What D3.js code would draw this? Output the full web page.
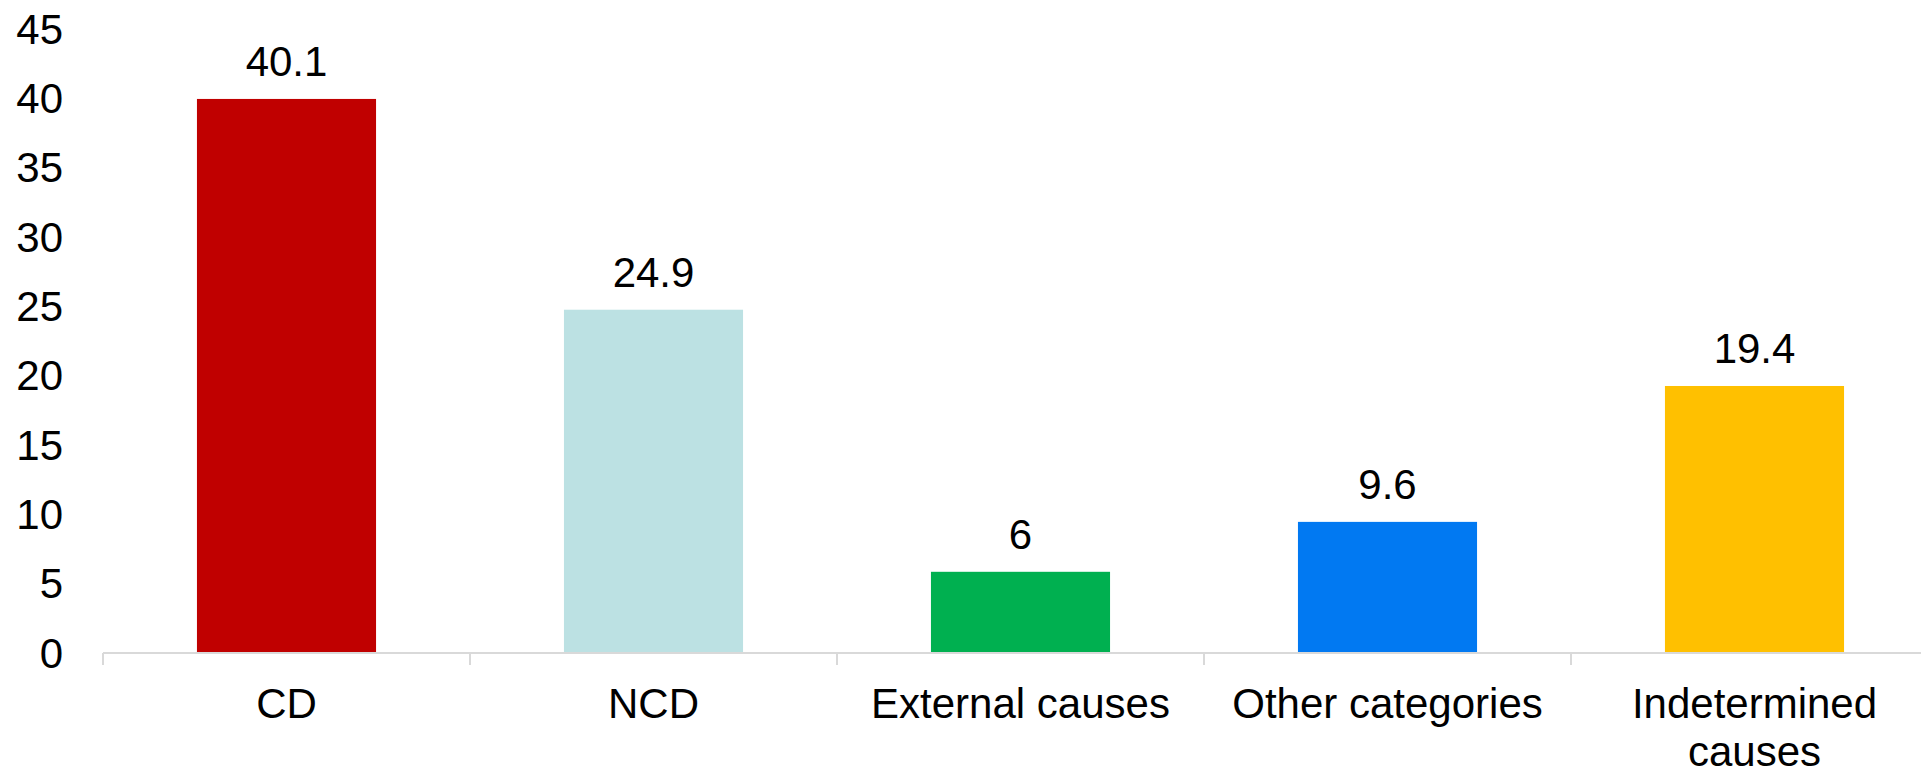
<!DOCTYPE html>
<html>
<head>
<meta charset="utf-8">
<script src="https://cdn.jsdelivr.net/npm/d3@7/dist/d3.min.js"></script>
<style>
  html, body { margin: 0; padding: 0; background: #ffffff; }
  svg { display: block; }
  text { font-family: "Liberation Sans", Arial, sans-serif; fill: #000; }
</style>
</head>
<body>
<svg id="chart" width="1921" height="771"></svg>
<script>
// Cause-of-death categories and their shares (%)
const categories = ["CD", "NCD", "External causes", "Other categories", "Indetermined causes"];
const values = [40.1, 24.9, 6, 9.6, 19.4];
const barColors = ["#C00000", "#BCE1E3", "#00B050", "#0179F2", "#FFC000"];
const yTicks = [0, 5, 10, 15, 20, 25, 30, 35, 40, 45];

const svg = d3.select("#chart");
const fontSize = 42;

// Category slots along the bottom axis
const x = d3.scaleBand()
  .domain(categories)
  .range([103, 103 + 367 * categories.length])
  .padding(0);
const barWidth = x.bandwidth() * 0.488;

// Value axis
const y = d3.scaleLinear()
  .domain([0, 45])
  .range([655, 31]);

const axisY = 653;

// Left axis: labels only
const yAxis = svg.append("g")
  .attr("transform", "translate(63,0)")
  .call(d3.axisLeft(y).tickValues(yTicks).tickSize(0).tickPadding(0).tickFormat(d3.format("d")));
yAxis.select(".domain").remove();
yAxis.selectAll("text")
  .attr("font-size", fontSize)
  .attr("font-family", "'Liberation Sans', Arial, sans-serif")
  .attr("fill", "#000")
  .attr("dy", "0.29em");

// Bars
svg.append("g").selectAll("rect")
  .data(categories)
  .join("rect")
  .attr("x", (d) => x(d) + (x.bandwidth() - barWidth) / 2)
  .attr("y", (d, i) => y(values[i]))
  .attr("width", barWidth)
  .attr("height", (d, i) => (y(0) - 3) - y(values[i]))
  .attr("fill", (d, i) => barColors[i]);

// Bottom axis line and slot separators
const axisG = svg.append("g");
axisG.append("line")
  .attr("x1", x.range()[0]).attr("x2", x.range()[1])
  .attr("y1", axisY).attr("y2", axisY)
  .attr("stroke", "#D9D9D9").attr("stroke-width", 2);
const edges = categories.map((c) => x(c)).concat([x.range()[1]]);
axisG.selectAll("line.sep")
  .data(edges)
  .join("line")
  .attr("class", "sep")
  .attr("x1", (d) => d).attr("x2", (d) => d)
  .attr("y1", axisY).attr("y2", axisY + 12)
  .attr("stroke", "#D9D9D9").attr("stroke-width", 2);

// Value labels above the bars
svg.append("g").selectAll("text")
  .data(categories)
  .join("text")
  .attr("x", (d) => x(d) + x.bandwidth() / 2)
  .attr("y", (d, i) => y(values[i]) - 23)
  .attr("text-anchor", "middle")
  .attr("font-size", fontSize)
  .text((d, i) => String(values[i]));

// Category labels, wrapped to fit their slot
const catLabels = svg.append("g").selectAll("text")
  .data(categories)
  .join("text")
  .attr("x", (d) => x(d) + x.bandwidth() / 2)
  .attr("y", 718)
  .attr("text-anchor", "middle")
  .attr("font-size", fontSize);

catLabels.each(function (d) {
  const el = d3.select(this);
  const cx = +el.attr("x");
  const words = d.split(" ");
  const maxW = 345;
  let line = [];
  let tspan = el.append("tspan").attr("x", cx).attr("dy", 0);
  words.forEach((w) => {
    line.push(w);
    tspan.text(line.join(" "));
    if (tspan.node().getComputedTextLength() > maxW && line.length > 1) {
      line.pop();
      tspan.text(line.join(" "));
      line = [w];
      tspan = el.append("tspan").attr("x", cx).attr("dy", 48).text(w);
    }
  });
});
</script>
</body>
</html>
